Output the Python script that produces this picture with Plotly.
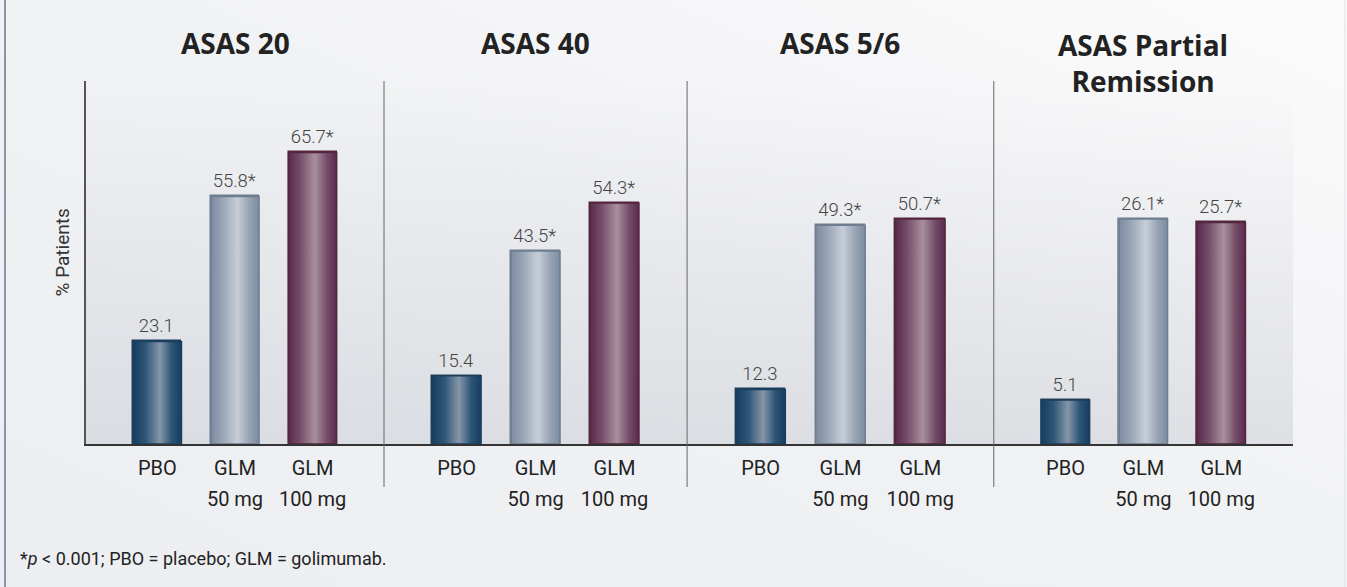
import base64
import plotly.graph_objects as go
from plotly.subplots import make_subplots

# ---------------- data ----------------
panel_titles = ["ASAS 20", "ASAS 40", "ASAS 5/6", "ASAS Partial<br>Remission"]
groups = ["PBO", "GLM<br>50 mg", "GLM<br>100 mg"]
pbo = [23.1, 15.4, 12.3, 5.1]
glm50 = [55.8, 43.5, 49.3, 26.1]
glm100 = [65.7, 54.3, 50.7, 25.7]
significant = [False, True, True]
y_axis_title = "% Patients"
footnote = "*<i>p</i> < 0.001; PBO = placebo; GLM = golimumab."

# ---------------- styles ----------------
W, H = 1347, 587
ML, MR, MT, MB = 86, 54, 81, 143
PW, PH = W - ML - MR, H - MT - MB
NARROW = "Roboto, Liberation Sans, sans-serif"
BOLD = "Open Sans, Noto Sans, DejaVu Sans, sans-serif"

bar_styles = [
    dict(edge="#1d3f5e", scale=[[0, "#163d60"], [0.25, "#2d5678"], [0.55, "#8696a8"], [0.8, "#2c5475"], [1, "#163d60"]], base="#3b5f80"),
    dict(edge="#6f7d90", scale=[[0, "#7d8ca0"], [0.25, "#9aa6b6"], [0.55, "#c8ced8"], [0.8, "#97a3b3"], [1, "#7d8ca0"]], base="#a3aebd"),
    dict(edge="#53273f", scale=[[0, "#5a2a4c"], [0.25, "#77506a"], [0.55, "#a8909f"], [0.8, "#744c67"], [1, "#5a2a4c"]], base="#7d5670"),
]
bar_w = 0.62
x_range = [-0.92, 2.92]
y_ranges = [[0, 81.8], [0, 81.8], [0, 81.8], [0, 42.1]]
domains = [[0, 0.2469], [0.2469, 0.498], [0.498, 0.7521], [0.7521, 1.0]]

def svg_uri(svg):
    return "data:image/svg+xml;base64," + base64.b64encode(svg.encode()).decode()

page_bg = svg_uri(
    '<svg xmlns="http://www.w3.org/2000/svg" width="100" height="100" preserveAspectRatio="none">'
    '<defs><linearGradient id="g" x1="0" y1="1" x2="1" y2="0">'
    '<stop offset="0" stop-color="#eceef1"/><stop offset="0.55" stop-color="#f1f2f4"/>'
    '<stop offset="1" stop-color="#fbfbfc"/></linearGradient></defs>'
    '<rect width="100" height="100" fill="url(#g)"/></svg>')
plot_bg = svg_uri(
    '<svg xmlns="http://www.w3.org/2000/svg" width="100" height="100" preserveAspectRatio="none">'
    '<defs><linearGradient id="g" x1="0" y1="0" x2="0" y2="1">'
    '<stop offset="0" stop-color="#3a4660" stop-opacity="0.0"/>'
    '<stop offset="1" stop-color="#3a4660" stop-opacity="0.11"/></linearGradient></defs>'
    '<rect width="100" height="100" fill="url(#g)"/></svg>')

# tick labels: lines drawn at 20px, spaced by the larger axis font size
tick_text = ["<br>".join(f"<span style='font-size:20px'>{ln}</span>" for ln in g.split("<br>"))
             for g in groups]

fig = make_subplots(rows=1, cols=4, horizontal_spacing=0)

series = [pbo, glm50, glm100]
for p in range(4):
    col = p + 1
    for g in range(3):
        v = series[g][p]
        st = bar_styles[g]
        label = f"{v}*" if significant[g] else f"{v}"
        fig.add_trace(go.Bar(
            x=[g], y=[v], width=bar_w, text=[label], textposition="outside",
            textfont=dict(family=NARROW, size=18.5, color="#444444", weight=300),
            marker=dict(color=st["base"], line=dict(color=st["edge"], width=1.5)),
            cliponaxis=False, showlegend=False, hoverinfo="skip"), row=1, col=col)
        # cylinder-like shading over the bar, built from the same value
        fig.add_trace(go.Scatter(
            x=[g - bar_w / 2, g + bar_w / 2, g + bar_w / 2, g - bar_w / 2, g - bar_w / 2],
            y=[0, 0, v, v, 0], mode="lines", fill="toself",
            fillgradient=dict(type="horizontal", colorscale=st["scale"]),
            line=dict(color=st["edge"], width=1.5),
            showlegend=False, hoverinfo="skip"), row=1, col=col)

for p in range(4):
    xa = "xaxis" if p == 0 else f"xaxis{p + 1}"
    ya = "yaxis" if p == 0 else f"yaxis{p + 1}"
    fig.layout[xa].update(
        domain=domains[p], range=x_range, tickmode="array", tickvals=[0, 1, 2],
        ticktext=tick_text, showgrid=False, zeroline=False, showline=True,
        linecolor="#333333", linewidth=1.5, ticks="",
        tickfont=dict(family=NARROW, size=24, color="#222222"),
        fixedrange=True)
    fig.layout[ya].update(
        range=y_ranges[p], showgrid=False, zeroline=False, showticklabels=False,
        showline=(p == 0), linecolor="#555555", linewidth=1.5, fixedrange=True)
    xref = "x domain" if p == 0 else f"x{p + 1} domain"
    fig.add_annotation(
        text=f"<b>{panel_titles[p]}</b>", xref=xref, x=0.5, yref="paper",
        y=1 + (38 if p < 3 else 18) / PH, yanchor="middle", showarrow=False,
        font=dict(family=BOLD, size=28, color="#222222"))
    if p > 0:
        fig.add_shape(type="line", xref=xref, x0=0, x1=0, yref="paper",
                      y0=-43 / PH, y1=1, line=dict(color="#666666", width=1))

fig.add_annotation(text=y_axis_title, textangle=-90, xref="paper", x=(48 - ML) / PW,
                   yref="paper", y=(PH - (253 - MT)) / PH, showarrow=False,
                   font=dict(family=NARROW, size=19, color="#333333"))
fig.add_annotation(text=footnote, xref="paper", x=(18 - ML) / PW, xanchor="left",
                   yref="paper", y=-(558 - MT - PH) / PH, yanchor="middle", showarrow=False,
                   font=dict(family=NARROW, size=18, color="#222222"))

# page frame lines
fig.add_shape(type="line", xref="paper", x0=(5 - ML) / PW, x1=(5 - ML) / PW,
              yref="paper", y0=-MB / PH, y1=1 + MT / PH, line=dict(color="#8a95aa", width=2))
fig.add_shape(type="line", xref="paper", x0=(1345 - ML) / PW, x1=(1345 - ML) / PW,
              yref="paper", y0=-MB / PH, y1=1 + MT / PH, line=dict(color="#dfe2e6", width=1))

fig.update_layout(
    width=W, height=H, margin=dict(l=ML, r=MR, t=MT, b=MB),
    paper_bgcolor="#eff0f2", plot_bgcolor="rgba(0,0,0,0)", bargap=0,
    images=[
        dict(source=page_bg, xref="paper", yref="paper", x=-ML / PW, y=1 + MT / PH,
             sizex=W / PW, sizey=H / PH, sizing="stretch", layer="below"),
        dict(source=plot_bg, xref="paper", yref="paper", x=0, y=1, sizex=1, sizey=1,
             sizing="stretch", layer="below"),
    ],
)

fig.write_html("out.html", config={"displayModeBar": False})
